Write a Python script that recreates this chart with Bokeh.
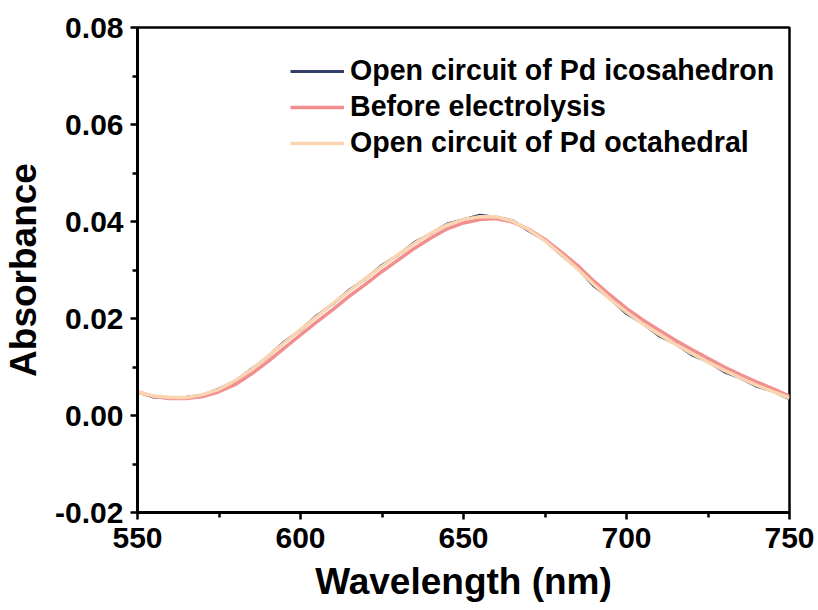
from bokeh.plotting import figure
from bokeh.models import Range1d, FixedTicker, Legend, LegendItem, CustomJSTickFormatter
from bokeh.embed import file_html
from bokeh.resources import INLINE

wavelength = [550, 555, 560, 565, 570, 575, 580, 585, 590, 595,
              600, 605, 610, 615, 620, 625, 630, 635, 640, 645,
              650, 655, 660, 665, 670, 675, 680, 685, 690, 695,
              700, 705, 710, 715, 720, 725, 730, 735, 740, 745, 750]

icosahedron = [0.0048, 0.0038, 0.0036, 0.0038, 0.0042, 0.0055, 0.0071, 0.0096, 0.0121, 0.0152,
               0.0176, 0.0206, 0.0230, 0.0259, 0.0282, 0.0310, 0.0331, 0.0357, 0.0375, 0.0395,
               0.0404, 0.0413, 0.0409, 0.0402, 0.0381, 0.0361, 0.0331, 0.0303, 0.0267, 0.0241,
               0.0210, 0.0190, 0.0164, 0.0148, 0.0125, 0.0111, 0.0090, 0.0077, 0.0060, 0.0050, 0.0034]

before = [0.0049, 0.0039, 0.0035, 0.0035, 0.0039, 0.0049, 0.0064, 0.0086, 0.0111, 0.0139,
          0.0166, 0.0193, 0.0219, 0.0246, 0.0271, 0.0297, 0.0321, 0.0345, 0.0366, 0.0385,
          0.0397, 0.0404, 0.0406, 0.0399, 0.0384, 0.0363, 0.0337, 0.0309, 0.0277, 0.0248,
          0.0221, 0.0197, 0.0176, 0.0155, 0.0136, 0.0118, 0.0100, 0.0084, 0.0069, 0.0055, 0.0040]

octahedral = [0.0048, 0.0040, 0.0037, 0.0037, 0.0043, 0.0054, 0.0072, 0.0095, 0.0122, 0.0150,
              0.0177, 0.0204, 0.0231, 0.0257, 0.0283, 0.0308, 0.0332, 0.0355, 0.0376, 0.0393,
              0.0404, 0.0410, 0.0410, 0.0401, 0.0383, 0.0360, 0.0332, 0.0302, 0.0270, 0.0240,
              0.0213, 0.0189, 0.0167, 0.0147, 0.0128, 0.0110, 0.0093, 0.0077, 0.0062, 0.0049, 0.0036]

series_names = ["Open circuit of Pd icosahedron", "Before electrolysis", "Open circuit of Pd octahedral"]
series_colors = ["#34406b", "#f28e8e", "#fbd5b2"]

x_ticks = [550, 600, 650, 700, 750]
x_minor = [575, 625, 675, 725]
y_ticks = [-0.02, 0.00, 0.02, 0.04, 0.06, 0.08]
y_minor = [-0.01, 0.01, 0.03, 0.05, 0.07]

FONT = "Liberation Sans"

p = figure(width=818, height=610, output_backend="svg", toolbar_location=None,
           x_range=Range1d(550, 750), y_range=Range1d(-0.02, 0.08),
           min_border_left=137, min_border_right=29, min_border_top=27, min_border_bottom=98)
p.xgrid.visible = False
p.ygrid.visible = False
p.background_fill_color = "white"
p.border_fill_color = "white"
p.outline_line_color = "black"
p.outline_line_width = 2.5
p.outline_line_alpha = 1

widths = [2.8, 3.5, 3.5]
renderers = []
for ys, c, w in zip([icosahedron, before, octahedral], series_colors, widths):
    r = p.line(wavelength, ys, line_color=c, line_width=w)
    renderers.append(r)

for ax in (p.xaxis[0], p.yaxis[0]):
    ax.axis_line_width = 3
    ax.major_tick_line_width = 2.5
    ax.minor_tick_line_width = 2.5
    ax.major_tick_out = 7
    ax.major_tick_in = 0
    ax.minor_tick_out = 5
    ax.minor_tick_in = 0
    ax.major_label_text_font = FONT
    ax.major_label_text_font_style = "bold"
    ax.major_label_text_font_size = "30px"
    ax.major_label_text_color = "black"
    ax.axis_label_text_font = FONT
    ax.axis_label_text_font_style = "bold"
    ax.axis_label_text_font_size = "37px"
    ax.axis_label_text_color = "black"

p.xaxis[0].ticker = FixedTicker(ticks=x_ticks, minor_ticks=x_minor)
p.yaxis[0].ticker = FixedTicker(ticks=y_ticks, minor_ticks=y_minor)
p.yaxis[0].formatter = CustomJSTickFormatter(code="return tick.toFixed(2);")
p.xaxis[0].axis_label = "Wavelength (nm)"
p.yaxis[0].axis_label = "Absorbance"
p.xaxis[0].major_label_standoff = 8
p.yaxis[0].major_label_standoff = 7
p.xaxis[0].axis_label_standoff = 10
p.yaxis[0].axis_label_standoff = 8

legend = Legend(items=[LegendItem(label=n, renderers=[r]) for n, r in zip(series_names, renderers)],
                location=(153, 353))
legend.border_line_alpha = 0
legend.background_fill_alpha = 0
legend.label_text_font = FONT
legend.label_text_font_style = "bold"
legend.label_text_font_size = "28.6px"
legend.label_text_color = "black"
legend.glyph_width = 54
legend.glyph_height = 30
legend.label_height = 30
legend.label_standoff = 6
legend.spacing = 3
legend.padding = 0
legend.margin = 0
p.add_layout(legend)

open("out.html", "w").write(file_html(p, INLINE))
